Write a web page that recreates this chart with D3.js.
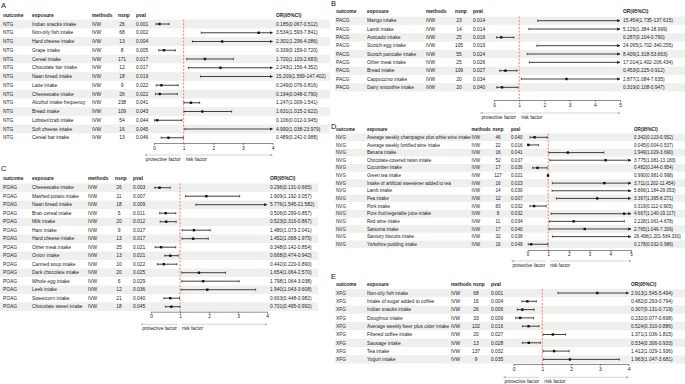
<!DOCTYPE html>
<html>
<head>
<meta charset="utf-8">
<script src="https://cdn.jsdelivr.net/npm/d3@7"></script>
<style>
  body { margin: 0; background: #fff; }
  svg { display: block; font-family: "Liberation Sans", Arial, sans-serif; }
</style>
</head>
<body>
<div id="container"></div>
<script>
// ---- A: NTG
const ntgExposure = ["Indian snacks intake", "Non-oily fish intake", "Hard cheese intake", "Grape intake",
  "Cereal intake", "Chocolate bar intake", "Naan bread intake", "Latte intake", "Cheesecake intake",
  "Alcohol intake frequency", "Bread intake", "Lobster/crab intake", "Soft cheese intake", "Cereal bar intake"];
const ntgNsnp = [26, 68, 13, 8, 171, 12, 18, 9, 26, 238, 109, 54, 16, 13];
const ntgPval = [0.001, 0.002, 0.004, 0.005, 0.017, 0.017, 0.019, 0.022, 0.022, 0.041, 0.043, 0.044, 0.045, 0.046];
const ntgOr = [0.185, 3.534, 2.301, 0.339, 1.720, 2.243, 15.209, 0.249, 0.194, 1.247, 1.631, 0.106, 4.990, 0.489];
const ntgLo = [0.067, 1.593, 1.296, 0.159, 1.103, 1.156, 1.569, 0.076, 0.048, 1.009, 1.015, 0.012, 1.038, 0.242];
const ntgHi = [0.512, 7.841, 4.086, 0.720, 2.683, 4.352, 147.402, 0.816, 0.790, 1.541, 2.622, 0.945, 23.979, 0.988];

// ---- B: PACG
const pacgExposure = ["Mango intake", "Lamb intake", "Avocado intake", "Scotch egg intake", "Scotch pancake intake",
  "Other meat intake", "Bread intake", "Cappuccino intake", "Dairy smoothie intake"];
const pacgNsnp = [23, 14, 25, 105, 55, 25, 109, 20, 20];
const pacgPval = [0.014, 0.014, 0.016, 0.019, 0.024, 0.026, 0.027, 0.034, 0.040];
const pacgOr = [15.454, 5.129, 0.287, 24.065, 8.409, 17.014, 0.453, 2.877, 0.319];
const pacgLo = [1.735, 1.384, 0.104, 1.702, 1.318, 1.402, 0.225, 1.084, 0.108];
const pacgHi = [137.615, 18.999, 0.790, 340.255, 53.663, 206.434, 0.912, 7.635, 0.947];

// ---- C: POAG
const poagExposure = ["Cheesecake intake", "Mashed potato intake", "Naan bread intake", "Bran cereal intake",
  "Milk intake", "Ham intake", "Hard cheese intake", "Other meat intake", "Onion intake", "Canned soup intake",
  "Dark chocolate intake", "Whole egg intake", "Leek intake", "Sweetcorn intake", "Chocolate sweet intake"];
const poagNsnp = [26, 11, 18, 5, 20, 9, 13, 25, 13, 10, 20, 6, 12, 21, 18];
const poagPval = [0.003, 0.007, 0.009, 0.011, 0.012, 0.017, 0.017, 0.021, 0.021, 0.022, 0.025, 0.029, 0.036, 0.040, 0.045];
const poagOr = [0.296, 1.909, 5.776, 0.506, 0.523, 1.480, 1.452, 0.348, 0.668, 0.442, 1.654, 1.798, 1.940, 0.663, 0.701];
const poagLo = [0.131, 1.192, 1.545, 0.299, 0.316, 1.073, 1.068, 0.142, 0.474, 0.220, 1.064, 1.064, 1.043, 0.448, 0.495];
const poagHi = [0.665, 3.057, 21.582, 0.857, 0.867, 2.041, 1.975, 0.854, 0.942, 0.890, 2.570, 3.038, 3.608, 0.982, 0.992];

// ---- D: NVG
const nvgExposure = ["Average weekly champagne plus white wine intake", "Average weekly fortified wine intake",
  "Banana intake", "Chocolate-covered raisin intake", "Cucumber intake", "Green tea intake",
  "Intake of artificial sweetener added to tea", "Lamb intake", "Pea intake", "Pork intake",
  "Pure fruit/vegetable juice intake", "Red wine intake", "Satsuma intake", "Savoury biscuits intake",
  "Yorkshire pudding intake"];
const nvgNsnp = [46, 22, 16, 52, 17, 127, 16, 14, 12, 83, 8, 11, 17, 32, 16];
const nvgPval = [0.040, 0.016, 0.041, 0.037, 0.036, 0.021, 0.023, 0.030, 0.007, 0.032, 0.032, 0.034, 0.040, 0.038, 0.048];
const nvgOr = [0.342, 0.045, 1.949, 3.775, 0.482, 0.990, 3.711, 5.866, 3.367, 0.319, 4.667, 2.228, 2.765, 26.498, 0.178];
const nvgLo = [0.123, 0.004, 1.029, 1.081, 0.244, 0.981, 1.202, 1.184, 1.395, 0.112, 1.140, 1.061, 1.046, 1.201, 0.032];
const nvgHi = [0.952, 0.537, 3.690, 13.183, 0.954, 0.998, 11.454, 29.053, 8.271, 0.905, 19.117, 4.678, 7.309, 584.330, 0.986];

// ---- E: XFG
const xfgExposure = ["Non-oily fish intake", "Intake of sugar added to coffee", "Indian snacks intake",
  "Doughnut intake", "Average weekly beer plus cider intake", "Filtered coffee intake", "Sausage intake",
  "Tea intake", "Yogurt intake"];
const xfgNsnp = [68, 16, 26, 33, 102, 20, 13, 137, 9];
const xfgPval = [0.001, 0.004, 0.006, 0.009, 0.016, 0.027, 0.028, 0.032, 0.035];
const xfgOr = [2.913, 0.482, 0.307, 0.232, 0.524, 1.371, 0.534, 1.412, 1.963];
const xfgLo = [1.545, 0.293, 0.131, 0.077, 0.310, 1.036, 0.306, 1.029, 1.047];
const xfgHi = [5.494, 0.794, 0.719, 0.698, 0.886, 1.815, 0.933, 1.936, 3.681];

const axisMax = {NTG: 4, PACG: 5, POAG: 4, NVG: 5, XFG: 4};

// layout of each panel (pixels)
const panels = [
  {letter: "A", outcome: "NTG", exposure: ntgExposure, nsnp: ntgNsnp, pval: ntgPval, or: ntgOr, lo: ntgLo, hi: ntgHi,
   fs: 4.9, lx: 1, ly: 8, headY: 15, rowTop: 24, step: 8.75,
   cols: [3, 32, 92, 122, 136], nsnpHead: 118, f0: 154, f1: 272.5, orX: 276, shade: [0, 330], axisY: 143, arrowY: 155},
  {letter: "B", outcome: "PACG", exposure: pacgExposure, nsnp: pacgNsnp, pval: pacgPval, or: pacgOr, lo: pacgLo, hi: pacgHi,
   fs: 4.9, lx: 331, ly: 6, headY: 11, rowTop: 20.7, step: 8.33,
   cols: [336, 367, 426, 459, 473], nsnpHead: 455, f0: 494, f1: 620, orX: 623, shade: [335, 685], axisY: 100, arrowY: 113},
  {letter: "C", outcome: "POAG", exposure: poagExposure, nsnp: poagNsnp, pval: poagPval, or: poagOr, lo: poagLo, hi: poagHi,
   fs: 4.9, lx: 1, ly: 171, headY: 178.3, rowTop: 187.7, step: 8.5,
   cols: [3, 32, 88, 119, 133], nsnpHead: 115, f0: 151, f1: 267, orX: 270, shade: [0, 318], axisY: 311.7, arrowY: 324.3},
  {letter: "D", outcome: "NVG", exposure: nvgExposure, nsnp: nvgNsnp, pval: nvgPval, or: nvgOr, lo: nvgLo, hi: nvgHi,
   fs: 4.6, lx: 331, ly: 129, headY: 129, rowTop: 137.3, step: 7.64,
   cols: [336, 367, 471.5, 498, 511], nsnpHead: 492.5, f0: 527.5, f1: 631, orX: 634, shade: [335, 685], axisY: 250, arrowY: 261},
  {letter: "E", outcome: "XFG", exposure: xfgExposure, nsnp: xfgNsnp, pval: xfgPval, or: xfgOr, lo: xfgLo, hi: xfgHi,
   fs: 4.9, lx: 331, ly: 279, headY: 284.3, rowTop: 293, step: 8.3,
   cols: [336, 367, 451, 476, 491], nsnpHead: 473, f0: 513.5, f1: 628.5, orX: 631, shade: [335, 685], axisY: 364, arrowY: 377.3}
];

const textColor = "#222";

const svg = d3.select("#container")
  .append("svg")
  .attr("width", 685)
  .attr("height", 384);

const defs = svg.append("defs");
defs.append("marker")
  .attr("id", "arrDark")
  .attr("viewBox", "0 0 10 10")
  .attr("refX", 9).attr("refY", 5)
  .attr("markerWidth", 3.2).attr("markerHeight", 3.2)
  .attr("markerUnits", "userSpaceOnUse")
  .attr("orient", "auto-start-reverse")
  .append("path").attr("d", "M0,0L10,5L0,10z").attr("fill", "#222");
defs.append("marker")
  .attr("id", "arrGray")
  .attr("viewBox", "0 0 10 10")
  .attr("refX", 9).attr("refY", 5)
  .attr("markerWidth", 2.5).attr("markerHeight", 2.5)
  .attr("markerUnits", "userSpaceOnUse")
  .attr("orient", "auto-start-reverse")
  .append("path").attr("d", "M0,0L10,5L0,10z").attr("fill", "#aaa");

function drawPanel(p) {
  const n = p.exposure.length;
  const max = axisMax[p.outcome];
  const fs = p.fs;
  const g = svg.append("g");

  const x = d3.scaleLinear().domain([0, max]).range([p.f0, p.f1]);
  const y = d3.scaleBand()
    .domain(d3.range(n))
    .range([p.rowTop - p.step / 2, p.rowTop - p.step / 2 + n * p.step]);
  const cy = i => y(i) + y.bandwidth() / 2;

  // panel letter
  g.append("text")
    .attr("x", p.lx).attr("y", p.ly)
    .style("font-size", "7.5px")
    .attr("fill", "#111")
    .text(p.letter);

  // zebra rows
  g.selectAll("rect.shade")
    .data(d3.range(n).filter(i => i % 2 === 0))
    .join("rect")
    .attr("class", "shade")
    .attr("x", p.shade[0])
    .attr("width", p.shade[1] - p.shade[0])
    .attr("y", i => y(i))
    .attr("height", y.bandwidth())
    .attr("fill", "#eef0ee");

  // header
  const heads = [["outcome", p.cols[0]], ["exposure", p.cols[1]], ["methods", p.cols[2]],
    ["nsnp", p.nsnpHead], ["pval", p.cols[4]], ["OR(95%CI)", p.orX]];
  heads.forEach(([t, hx]) => {
    g.append("text")
      .attr("x", hx).attr("y", p.headY)
      .attr("dy", "0.35em")
      .style("font-size", fs + "px")
      .style("font-weight", "bold")
      .attr("fill", textColor)
      .text(t);
  });

  // table cells
  const rows = g.selectAll("g.row")
    .data(d3.range(n))
    .join("g")
    .attr("class", "row")
    .style("font-size", fs + "px")
    .attr("fill", textColor);

  rows.append("text").attr("x", p.cols[0]).attr("y", cy).attr("dy", "0.35em").text(p.outcome);
  rows.append("text").attr("x", p.cols[1]).attr("y", cy).attr("dy", "0.35em").text(i => p.exposure[i]);
  rows.append("text").attr("x", p.cols[2]).attr("y", cy).attr("dy", "0.35em").text("IVW");
  rows.append("text").attr("x", p.cols[3]).attr("y", cy).attr("dy", "0.35em")
    .attr("text-anchor", "middle").text(i => p.nsnp[i]);
  rows.append("text").attr("x", p.cols[4]).attr("y", cy).attr("dy", "0.35em").text(i => p.pval[i].toFixed(3));
  rows.append("text").attr("x", p.orX).attr("y", cy).attr("dy", "0.35em")
    .text(i => `${p.or[i].toFixed(3)}(${p.lo[i].toFixed(3)}-${p.hi[i].toFixed(3)})`);

  // reference line at OR = 1
  g.append("line")
    .attr("x1", x(1)).attr("x2", x(1))
    .attr("y1", y(0)).attr("y2", p.axisY)
    .attr("stroke", "#f2706a")
    .attr("stroke-width", 0.9)
    .attr("stroke-dasharray", "2,1.5");

  // CI whiskers
  const ci = g.selectAll("g.ci")
    .data(d3.range(n))
    .join("g")
    .attr("class", "ci");

  ci.append("line")
    .attr("x1", i => x(p.lo[i]))
    .attr("x2", i => x(Math.min(p.hi[i], max)))
    .attr("y1", cy).attr("y2", cy)
    .attr("stroke", "#2a2a2a")
    .attr("stroke-width", 0.9)
    .attr("marker-end", i => p.hi[i] > max ? "url(#arrDark)" : null);

  ci.append("line")
    .attr("x1", i => x(p.lo[i])).attr("x2", i => x(p.lo[i]))
    .attr("y1", i => cy(i) - 1.2).attr("y2", i => cy(i) + 1.2)
    .attr("stroke", "#2a2a2a").attr("stroke-width", 0.7);

  ci.filter(i => p.hi[i] <= max)
    .append("line")
    .attr("x1", i => x(p.hi[i])).attr("x2", i => x(p.hi[i]))
    .attr("y1", i => cy(i) - 1.2).attr("y2", i => cy(i) + 1.2)
    .attr("stroke", "#2a2a2a").attr("stroke-width", 0.7);

  ci.filter(i => p.or[i] <= max)
    .append("rect")
    .attr("x", i => x(p.or[i]) - 1.2)
    .attr("y", i => cy(i) - 1.2)
    .attr("width", 2.4).attr("height", 2.4)
    .attr("fill", "#111");

  // x axis
  const ax = g.append("g")
    .attr("transform", `translate(0,${p.axisY})`)
    .call(d3.axisBottom(x).ticks(max).tickFormat(d3.format("d")).tickSize(2).tickSizeOuter(0).tickPadding(1.2));
  ax.select(".domain").attr("stroke", "#444").attr("stroke-width", 0.6);
  ax.selectAll(".tick line").attr("stroke", "#444").attr("stroke-width", 0.6);
  ax.selectAll(".tick text")
    .style("font-size", fs + "px")
    .style("font-family", "'Liberation Sans', Arial, sans-serif")
    .attr("fill", textColor);

  // protective / risk arrows
  const prot = g.append("text")
    .attr("x", x(1) - 3).attr("y", p.arrowY + 4)
    .attr("dy", "0.35em")
    .attr("text-anchor", "end")
    .style("font-size", fs + "px")
    .attr("fill", textColor)
    .text("protective factor");
  const w = prot.node().getComputedTextLength();

  g.append("line")
    .attr("x1", x(1) - 3).attr("x2", x(1) - 3 - w - 1)
    .attr("y1", p.arrowY).attr("y2", p.arrowY)
    .attr("stroke", "#bbb").attr("stroke-width", 0.6)
    .attr("marker-end", "url(#arrGray)");

  g.append("line")
    .attr("x1", x(1) + 2).attr("x2", x(max))
    .attr("y1", p.arrowY).attr("y2", p.arrowY)
    .attr("stroke", "#bbb").attr("stroke-width", 0.6)
    .attr("marker-end", "url(#arrGray)");

  g.append("text")
    .attr("x", x(1) + 2).attr("y", p.arrowY + 4)
    .attr("dy", "0.35em")
    .style("font-size", fs + "px")
    .attr("fill", textColor)
    .text("risk factor");
}

panels.forEach(drawPanel);
</script>
</body>
</html>
